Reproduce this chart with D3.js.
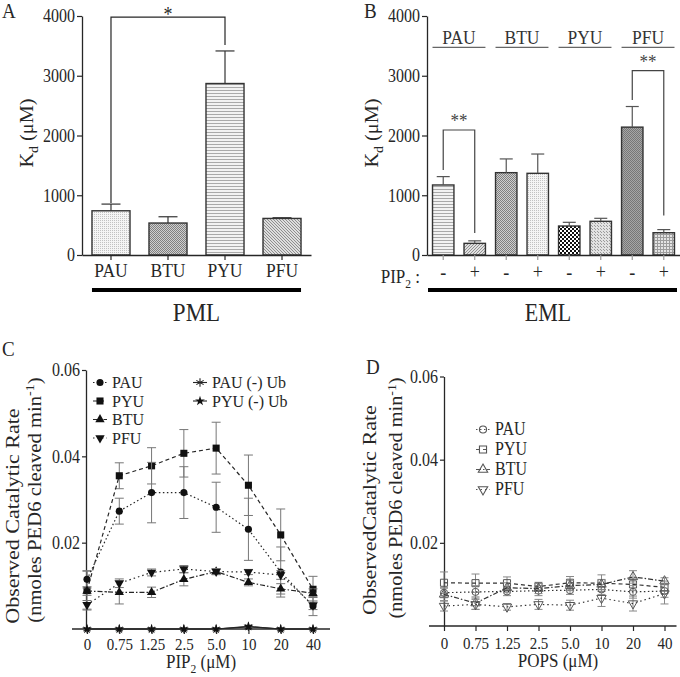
<!DOCTYPE html>
<html><head><meta charset="utf-8">
<script src="https://cdn.jsdelivr.net/npm/d3@7"></script>
<style>
body{margin:0;background:#fff}
svg{display:block}
text{font-family:"Liberation Serif","Times New Roman",serif}
</style>
</head><body>
<svg id="c" width="680" height="677"></svg>
<script>
// ---------------- data ----------------
const catsA = ["PAU", "BTU", "PYU", "PFU"];
const valsA = [740, 535, 2870, 612];
const errA  = [112, 105, 545, 12];
const yTicksAB = [0, 1000, 2000, 3000, 4000];

const groupsB = ["PAU", "BTU", "PYU", "PFU"];
const pipB  = ["-", "+", "-", "+", "-", "+", "-", "+"];
const valsB = [1172, 195, 1378, 1367, 485, 564, 2140, 373];
const errB  = [140, 42, 230, 323, 62, 50, 345, 52];

const concC = ["0", "0.75", "1.25", "2.5", "5.0", "10", "20", "40"];
const yTicksCD = [0.02, 0.04, 0.06];
const pauC    = [0.0115, 0.0273, 0.0316, 0.0316, 0.0282, 0.0231, 0.0132, 0.0053];
const pauCerr = [0.0020, 0.0030, 0.0070, 0.0060, 0.0058, 0.0072, 0.0058, 0.0022];
const pyuC    = [0.0089, 0.0355, 0.0378, 0.0407, 0.0419, 0.0333, 0.0218, 0.0092];
const pyuCerr = [0.0045, 0.0030, 0.0042, 0.0055, 0.0060, 0.0070, 0.0060, 0.0030];
const btuC    = [0.0088, 0.0085, 0.0085, 0.0115, 0.0133, 0.0108, 0.0093, 0.0083];
const btuCerr = [0.0010, 0.0027, 0.0012, 0.0015, 0.0007, 0.0008, 0.0012, 0.0010];
const pfuC    = [0.0056, 0.0106, 0.0131, 0.0139, 0.0133, 0.0132, 0.0125, 0.0055];
const pfuCerr = [0.0010, 0.0010, 0.0008, 0.0008, 0.0007, 0.0006, 0.0010, 0.0010];
const pauNoUbC = [0, 0, 0, 0, 0, 0.0005, 0, 0];
const pyuNoUbC = [0, 0, 0, 0, 0, 0.0006, 0, 0];

const concD = ["0", "0.75", "1.25", "2.5", "5.0", "10", "20", "40"];
const pauD    = [0.0080, 0.0082, 0.0083, 0.0085, 0.0086, 0.0088, 0.0082, 0.0084];
const pauDerr = [0.0012, 0.0015, 0.0010, 0.0012, 0.0010, 0.0012, 0.0015, 0.0015];
const pyuD    = [0.0104, 0.0103, 0.0103, 0.0095, 0.0104, 0.0103, 0.0100, 0.0093];
const pyuDerr = [0.0026, 0.0022, 0.0015, 0.0010, 0.0015, 0.0020, 0.0015, 0.0015];
const btuD    = [0.0076, 0.0055, 0.0092, 0.0090, 0.0097, 0.0100, 0.0118, 0.0108];
const btuDerr = [0.0015, 0.0015, 0.0012, 0.0012, 0.0012, 0.0012, 0.0015, 0.0008];
const pfuD    = [0.0048, 0.0052, 0.0046, 0.0052, 0.0050, 0.0067, 0.0054, 0.0078];
const pfuDerr = [0.0012, 0.0012, 0.0008, 0.0012, 0.0012, 0.0020, 0.0018, 0.0025];

// ---------------- setup ----------------
const svg = d3.select("#c");
const defs = svg.append("defs");
const SY = 1.13;           // vertical text stretch seen in the reference
const INK = "#262626";
const SERIF = '"Liberation Serif","Times New Roman",serif';

function label(x, y, parts, size, anchor = "middle", rot = 0, color = INK, sy = SY) {
  const t = svg.append("text")
    .attr("transform", `translate(${x},${y}) scale(1,${sy})${rot ? ` rotate(${rot})` : ""}`)
    .attr("text-anchor", anchor).attr("font-size", size).attr("fill", color);
  if (typeof parts === "string") parts = [parts];
  let shift = 0;
  parts.forEach(p => {
    if (typeof p === "string") { t.append("tspan").attr("dy", -shift).text(p); shift = 0; }
    else {
      const s = p.sub ? size * 0.28 : -size * 0.36;
      t.append("tspan").attr("dy", s - shift).attr("font-size", size * 0.68).text(p.t);
      shift = s;
    }
  });
  return t;
}
function styleAxis(g, size) {
  g.attr("font-family", SERIF).attr("font-size", size);
  g.select(".domain").attr("stroke", INK).attr("stroke-width", 1.3);
  g.selectAll(".tick line").attr("stroke", INK).attr("stroke-width", 1.2);
  g.selectAll(".tick text").attr("fill", INK).attr("transform", `scale(1,${SY})`);
}
function pattern(id, w, h, bg, fg, cells) {
  const p = defs.append("pattern").attr("id", id).attr("patternUnits", "userSpaceOnUse")
    .attr("width", w).attr("height", h);
  p.append("rect").attr("width", w).attr("height", h).attr("fill", bg);
  cells.forEach(([x, y, cw, ch]) => p.append("rect").attr("x", x).attr("y", y)
    .attr("width", cw).attr("height", ch).attr("fill", fg));
}
pattern("stipple", 2, 2, "#f5f5f5", "#c2c2c2", [[0, 0, 1, 1]]);
pattern("cross",   2, 2, "#cfcfcf", "#808080", [[0, 0, 1, 1], [1, 1, 1, 1]]);
pattern("hlines",  2, 3, "#f2f2f2", "#a9a9a9", [[0, 0, 2, 1]]);
pattern("dotsMed", 3, 3, "#dedede", "#8e8e8e", [[0, 0, 1, 1], [1, 1, 1, 1], [2, 2, 1, 1]]);
pattern("dotsB2",  3, 3, "#e0e0e0", "#909090", [[0, 0, 1, 1], [1, 2, 1, 1], [2, 1, 1, 1]]);
pattern("checker", 4, 4, "#ffffff", "#111111", [[0, 0, 2, 2], [2, 2, 2, 2]]);
pattern("dotsB6",  3, 3, "#e2e2e2", "#9a9a9a", [[0, 0, 1, 1], [1, 1, 1, 1]]);
pattern("dark",    2, 2, "#a6a6a6", "#777777", [[0, 0, 1, 1], [1, 1, 1, 1]]);
pattern("grid",    3, 3, "#e4e4e4", "#9c9c9c", [[0, 0, 3, 1], [0, 0, 1, 3]]);
const fillA = ["url(#stipple)", "url(#cross)", "url(#hlines)", "url(#dotsMed)"];
const fillB = ["url(#hlines)", "url(#dotsB2)", "url(#cross)", "url(#stipple)",
               "url(#checker)", "url(#dotsB6)", "url(#dark)", "url(#grid)"];

// ---------------- Panel A ----------------
const xA = d3.scaleBand().domain(catsA).range([82, 311]).paddingInner(0.333).paddingOuter(0.175);
const yA = d3.scaleLinear().domain([0, 4000]).range([255, 16]);
const gA = svg.append("g");
gA.selectAll("rect.bar").data(catsA).join("rect")
  .attr("x", d => xA(d)).attr("width", xA.bandwidth())
  .attr("y", (d, i) => yA(valsA[i])).attr("height", (d, i) => yA(0) - yA(valsA[i]))
  .attr("fill", (d, i) => fillA[i]).attr("stroke", "#333").attr("stroke-width", 1.4);
catsA.forEach((c, i) => {
  const cx = xA(c) + xA.bandwidth() / 2;
  gA.append("line").attr("x1", cx).attr("x2", cx).attr("y1", yA(valsA[i])).attr("y2", yA(valsA[i] + errA[i]))
    .attr("stroke", "#333").attr("stroke-width", 1.2);
  gA.append("line").attr("x1", cx - 9.5).attr("x2", cx + 9.5).attr("y1", yA(valsA[i] + errA[i])).attr("y2", yA(valsA[i] + errA[i]))
    .attr("stroke", "#333").attr("stroke-width", 1.2);
});
const axAy = svg.append("g").attr("transform", "translate(82,0)")
  .call(d3.axisLeft(yA).tickValues(yTicksAB).tickFormat(d3.format("d")).tickSize(5).tickSizeOuter(0).tickPadding(2));
styleAxis(axAy, 16);
const axAx = svg.append("g").attr("transform", `translate(0,${yA(0)})`)
  .call(d3.axisBottom(xA).tickSize(5).tickSizeOuter(0).tickPadding(2));
styleAxis(axAx, 17.5);
// significance bracket
{
  const l = xA("PAU") + xA.bandwidth() / 2, r = xA("PYU") + xA.bandwidth() / 2;
  svg.append("path").attr("d", `M${l},${yA(870)}V${yA(3980)}H${r}V${yA(3515)}`)
    .attr("fill", "none").attr("stroke", INK).attr("stroke-width", 1.2);
  label((l + r) / 2, 21, "*", 18);
}
svg.append("line").attr("x1", xA("PAU")).attr("x2", xA("PFU") + xA.bandwidth())
  .attr("y1", 290).attr("y2", 290).attr("stroke", "#000").attr("stroke-width", 4);
label((xA("PAU") + xA("PFU") + xA.bandwidth()) / 2, 321, "PML", 23);
label(33, 133, ["K", { t: "d", sub: true }, " (μM)"], 18, "middle", -90);
label(2, 18, "A", 19, "start");

// ---------------- Panel B ----------------
const idxB = d3.range(valsB.length);
const xB = d3.scaleBand().domain(idxB).range([427, 680]).paddingInner(0.32).paddingOuter(0.175);
const yB = d3.scaleLinear().domain([0, 4000]).range([255, 16]);
svg.selectAll("rect.barB").data(idxB).join("rect")
  .attr("x", d => xB(d)).attr("width", xB.bandwidth())
  .attr("y", d => yB(valsB[d])).attr("height", d => yB(0) - yB(valsB[d]))
  .attr("fill", d => fillB[d]).attr("stroke", "#333").attr("stroke-width", 1.4);
idxB.forEach(i => {
  const cx = xB(i) + xB.bandwidth() / 2;
  svg.append("line").attr("x1", cx).attr("x2", cx).attr("y1", yB(valsB[i])).attr("y2", yB(valsB[i] + errB[i]))
    .attr("stroke", "#555").attr("stroke-width", 1.2);
  svg.append("line").attr("x1", cx - 6.5).attr("x2", cx + 6.5).attr("y1", yB(valsB[i] + errB[i])).attr("y2", yB(valsB[i] + errB[i]))
    .attr("stroke", "#555").attr("stroke-width", 1.2);
});
const axBy = svg.append("g").attr("transform", "translate(427,0)")
  .call(d3.axisLeft(yB).tickValues(yTicksAB).tickFormat(d3.format("d")).tickSize(5).tickSizeOuter(0).tickPadding(2));
styleAxis(axBy, 16);
const axBx = svg.append("g").attr("transform", `translate(0,${yB(0)})`)
  .call(d3.axisBottom(xB).tickFormat(i => pipB[i]).tickSize(5).tickSizeOuter(0).tickPadding(3.5));
styleAxis(axBx, 18);
axBx.selectAll(".tick line").attr("stroke", "#999");
label(420, 283, ["PIP", { t: "2", sub: true }, " :"], 17, "end");
groupsB.forEach((g, k) => {
  const x0 = xB(2 * k), x1 = xB(2 * k + 1) + xB.bandwidth();
  svg.append("line").attr("x1", x0).attr("x2", x1).attr("y1", yB(3475)).attr("y2", yB(3475))
    .attr("stroke", "#666").attr("stroke-width", 1.4);
  label((x0 + x1) / 2, yB(3475) - 3, g, 17.5, "middle", 0, "#333");
});
function bracketB(a, b, top, lv, rv, star) {
  const l = xB(a) + xB.bandwidth() / 2, r = xB(b) + xB.bandwidth() / 2;
  svg.append("path").attr("d", `M${l},${yB(lv)}V${yB(top)}H${r}V${yB(rv)}`)
    .attr("fill", "none").attr("stroke", "#444").attr("stroke-width", 1.2);
  label((l + r) / 2, yB(top) - 3, star, 17, "middle", 0, "#444");
}
bracketB(0, 1, 2092, 1423, 370, "**");
bracketB(6, 7, 3085, 2594, 660, "**");
svg.append("line").attr("x1", 428).attr("x2", 677).attr("y1", 290).attr("y2", 290)
  .attr("stroke", "#000").attr("stroke-width", 4);
label(548, 321, "EML", 22);
label(378, 133, ["K", { t: "d", sub: true }, " (μM)"], 18, "middle", -90);
label(364, 18, "B", 19, "start");

// ---------------- line panels helper ----------------
const sym = {
  circle: d3.symbol(d3.symbolCircle, 40),
  square: d3.symbol(d3.symbolSquare, 50),
  tri: d3.symbol(d3.symbolTriangle, 38),
  star: d3.symbol(d3.symbolStar, 30),
  ast: d3.symbol(d3.symbolAsterisk, 50)
};
function series(x, y, cats, vals, errs, opts) {
  const g = svg.append("g");
  if (errs) cats.forEach((c, i) => {
    const cx = x(c), t = y(vals[i] + errs[i]), b = y(Math.max(0, vals[i] - errs[i]));
    g.append("path").attr("d", `M${cx},${t}V${b}M${cx - opts.cap},${t}H${cx + opts.cap}M${cx - opts.cap},${b}H${cx + opts.cap}`)
      .attr("fill", "none").attr("stroke", opts.errColor).attr("stroke-width", 1);
  });
  const line = d3.line().x((d, i) => x(cats[i])).y(d => y(d));
  g.append("path").attr("d", line(vals)).attr("fill", "none").attr("stroke", opts.lineColor || INK)
    .attr("stroke-width", 1.2).attr("stroke-dasharray", opts.dash || null);
  cats.forEach((c, i) => {
    g.append("path").attr("d", opts.sym()).attr("transform", `translate(${x(c)},${y(vals[i])})${opts.rot ? " rotate(180)" : ""}`)
      .attr("fill", opts.open || opts.stroke ? "none" : "#111")
      .attr("stroke", opts.open ? "#555" : (opts.stroke ? "#222" : "none")).attr("stroke-width", opts.open ? 1 : 1.1);
  });
}
function legendItem(x, yc, text, opts, size, sy) {
  svg.append("line").attr("x1", x - 7).attr("x2", x + 7).attr("y1", yc).attr("y2", yc)
    .attr("stroke", opts.open ? "#555" : INK).attr("stroke-width", 1.1).attr("stroke-dasharray", opts.dash || null);
  svg.append("path").attr("d", opts.sym()).attr("transform", `translate(${x},${yc})${opts.rot ? " rotate(180)" : ""}`)
    .attr("fill", opts.open || opts.stroke ? "none" : "#111")
    .attr("stroke", opts.open ? "#555" : (opts.stroke ? "#222" : "none")).attr("stroke-width", 1.1);
  label(x + 12, yc + 5.5, text, size, "start", 0, INK, sy);
}

// ---------------- Panel C ----------------
const xC = d3.scalePoint().domain(concC).range([87, 313]);
const yC = d3.scaleLinear().domain([0, 0.06]).range([629, 370]);
const stC = {
  pau: { sym: sym.circle, dash: "1.5,2.5", cap: 4.5, errColor: "#777" },
  pyu: { sym: sym.square, dash: "4,3", cap: 4.5, errColor: "#777" },
  btu: { sym: sym.tri, dash: "5,2,1.5,2", cap: 4.5, errColor: "#777" },
  pfu: { sym: sym.tri, rot: true, dash: "1.5,3", cap: 4.5, errColor: "#777" },
  pauNo: { sym: sym.ast, stroke: true },
  pyuNo: { sym: sym.star }
};
svg.append("line").attr("x1", xC.range()[0] - 15).attr("x2", xC.range()[1] + 17)
  .attr("y1", yC(0)).attr("y2", yC(0)).attr("stroke", INK).attr("stroke-width", 1.3);
const axCx = svg.append("g").attr("transform", `translate(0,${yC(0)})`)
  .call(d3.axisBottom(xC).tickSize(5).tickSizeOuter(0).tickPadding(2.5));
styleAxis(axCx, 15);
axCx.select(".domain").remove();
const axCy = svg.append("g").attr("transform", `translate(${xC.range()[0] - 1},0)`)
  .call(d3.axisLeft(yC).tickValues(yTicksCD).tickFormat(d3.format(".2f")).tickSize(4).tickSizeOuter(0).tickPadding(2));
styleAxis(axCy, 16);
series(xC, yC, concC, pyuC, pyuCerr, stC.pyu);
series(xC, yC, concC, pauC, pauCerr, stC.pau);
series(xC, yC, concC, btuC, btuCerr, stC.btu);
series(xC, yC, concC, pfuC, pfuCerr, stC.pfu);
series(xC, yC, concC, pauNoUbC, null, stC.pauNo);
series(xC, yC, concC, pyuNoUbC, null, stC.pyuNo);
legendItem(100, 382.5, "PAU", stC.pau, 16, 1.08);
legendItem(100, 401, "PYU", stC.pyu, 16, 1.08);
legendItem(100, 419.5, "BTU", stC.btu, 16, 1.08);
legendItem(100, 438, "PFU", stC.pfu, 16, 1.08);
legendItem(200, 382.5, "PAU (-) Ub", stC.pauNo, 16, 1.08);
legendItem(200, 401, "PYU (-) Ub", stC.pyuNo, 16, 1.08);
label(201, 668, ["PIP", { t: "2", sub: true }, " (μM)"], 17);
label(19, 516, "Observed Catalytic Rate", 19.5, "middle", -90);
label(41, 500, ["(nmoles PED6 cleaved min", { t: "-1", sup: true }, ")"], 18.3, "middle", -90);
label(2, 356, "C", 19, "start");

// ---------------- Panel D ----------------
const xD = d3.scalePoint().domain(concD).range([444, 664.5]);
const yD = d3.scaleLinear().domain([0, 0.06]).range([626, 376.5]);
const stD = {
  pau: { sym: sym.circle, open: true, dash: "1.5,2.5", cap: 4, errColor: "#888", lineColor: "#333" },
  pyu: { sym: sym.square, open: true, dash: "4,3", cap: 4, errColor: "#888", lineColor: "#333" },
  btu: { sym: sym.tri, open: true, dash: "5,2,1.5,2", cap: 4, errColor: "#888", lineColor: "#333" },
  pfu: { sym: sym.tri, rot: true, open: true, dash: "1.5,3", cap: 4, errColor: "#888", lineColor: "#333" }
};
svg.append("line").attr("x1", xD.range()[0] - 15).attr("x2", xD.range()[1] + 12)
  .attr("y1", yD(0)).attr("y2", yD(0)).attr("stroke", INK).attr("stroke-width", 1.3);
const axDx = svg.append("g").attr("transform", `translate(0,${yD(0)})`)
  .call(d3.axisBottom(xD).tickSize(5).tickSizeOuter(0).tickPadding(4.5));
styleAxis(axDx, 15);
axDx.select(".domain").remove();
const axDy = svg.append("g").attr("transform", `translate(${xD.range()[0]},0)`)
  .call(d3.axisLeft(yD).tickValues(yTicksCD).tickFormat(d3.format(".2f")).tickSize(4).tickSizeOuter(0).tickPadding(2));
styleAxis(axDy, 16);
series(xD, yD, concD, pyuD, pyuDerr, stD.pyu);
series(xD, yD, concD, pauD, pauDerr, stD.pau);
series(xD, yD, concD, btuD, btuDerr, stD.btu);
series(xD, yD, concD, pfuD, pfuDerr, stD.pfu);
legendItem(483, 429.5, "PAU", stD.pau, 16, SY);
legendItem(483, 449.5, "PYU", stD.pyu, 16, SY);
legendItem(483, 469.5, "BTU", stD.btu, 16, SY);
legendItem(483, 489.5, "PFU", stD.pfu, 16, SY);
label(558, 667, "POPS (μM)", 17);
label(376, 510, "ObservedCatalytic Rate", 19.5, "middle", -90);
label(402, 498, ["(nmoles PED6 cleaved min", { t: "-1", sup: true }, ")"], 18, "middle", -90);
label(366, 374, "D", 19, "start");
</script>
</body></html>
